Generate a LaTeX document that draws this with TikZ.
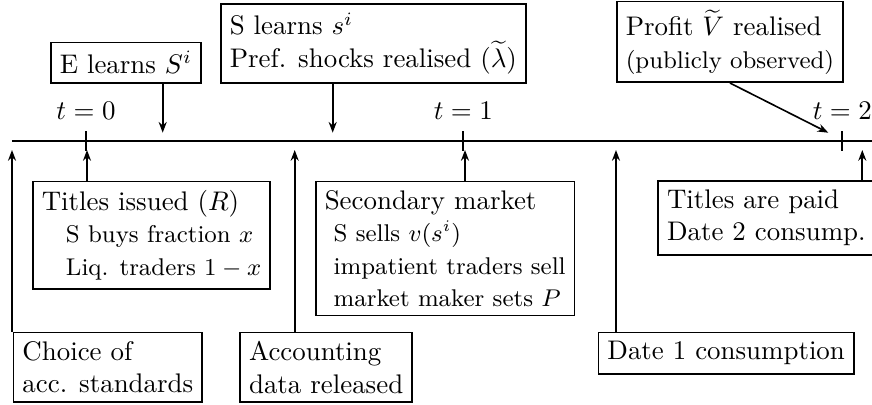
\documentclass[tikz,border=0pt]{standalone}
\usetikzlibrary{arrows.meta,calc}
\begin{document}
\begin{tikzpicture}[x=0.3717pt,y=-0.3717pt,
  box/.style={draw,semithick,align=left,inner sep=3.333pt},
  arr/.style={semithick,-{Stealth[length=4pt,width=3pt]}},
  tl/.style={thick},
  tick/.style={thick}]
\useasboundingbox (0,0) rectangle (872,405);
% timeline
\coordinate (L) at (12,141);
\coordinate (R) at (880,141);
\draw[tl] (L) -- (R);
% ticks and labels
\coordinate (T0) at (86,141);
\coordinate (T1) at (463.3,141);
\coordinate (T2) at (842.3,141);
\foreach \p/\n in {T0/0,T1/1,T2/2}{
  \draw[tick] ($(\p)+(0,-10)$) -- ($(\p)+(0,10)$);
  \node[anchor=base,inner sep=0pt] (lab\n) at ($(\p)+(0,-22)$) {$t=\n$};
}
% top boxes
\node[box,anchor=south west] (eL) at (50,83.7) {E learns $S^i$};
\node[box,anchor=south west] (sL) at (220,83.7) {S learns $s^i$\\Pref. shocks realised ($\widetilde{\lambda}$)};
\node[box,anchor=south west,inner ysep=3pt] (pV) at (616,83) {Profit $\widetilde{V}$ realised\\{\small (publicly observed)}};
% bottom boxes
\node[box,anchor=north west] (tI) at (32,180.7) {Titles issued $(R)$\\\hspace*{9pt}{\small S buys fraction $x$}\\\hspace*{9pt}{\small Liq. traders $1-x$}};
\node[box,anchor=north west] (sm) at (315,180.7) {Secondary market\\\hspace*{3.3pt}{\small S sells $v(s^i)$}\\\hspace*{3.3pt}{\small impatient traders sell}\\\hspace*{3.3pt}{\small market maker sets $P$}};
\node[box,anchor=north west] (tp) at (657.3,180) {Titles are paid\\Date 2 consump.};
\node[box,anchor=north west] (ch) at (12.7,331.7) {Choice of\\acc. standards};
\node[box,anchor=north west] (ac) at (239.3,331.7) {Accounting\\data released};
\node[box,anchor=north west] (d1) at (597.7,331.7) {Date 1 consumption};
% arrow end points on the timeline
\coordinate (aE) at (162.7,132.7);
\coordinate (aS) at (332.7,132.7);
\coordinate (aP) at (828.3,132.7);
\coordinate (uC) at (12,150);
\coordinate (uT) at (87,150);
\coordinate (uA) at (294.7,150);
\coordinate (uS) at (465,150);
\coordinate (uD) at (616,150);
\coordinate (uP) at (862.3,150);
% arrows down
\draw[arr] (eL.south -| aE) -- (aE);
\draw[arr] (sL.south -| aS) -- (aS);
\draw[arr] (pV.south) -- (aP);
% arrows up
\draw[arr] (ch.north -| uC) -- (uC);
\draw[arr] (tI.north -| uT) -- (uT);
\draw[arr] (ac.north -| uA) -- (uA);
\draw[arr] (sm.north -| uS) -- (uS);
\draw[arr] (d1.north -| uD) -- (uD);
\draw[arr] (tp.north -| uP) -- (uP);
\end{tikzpicture}
\end{document}
